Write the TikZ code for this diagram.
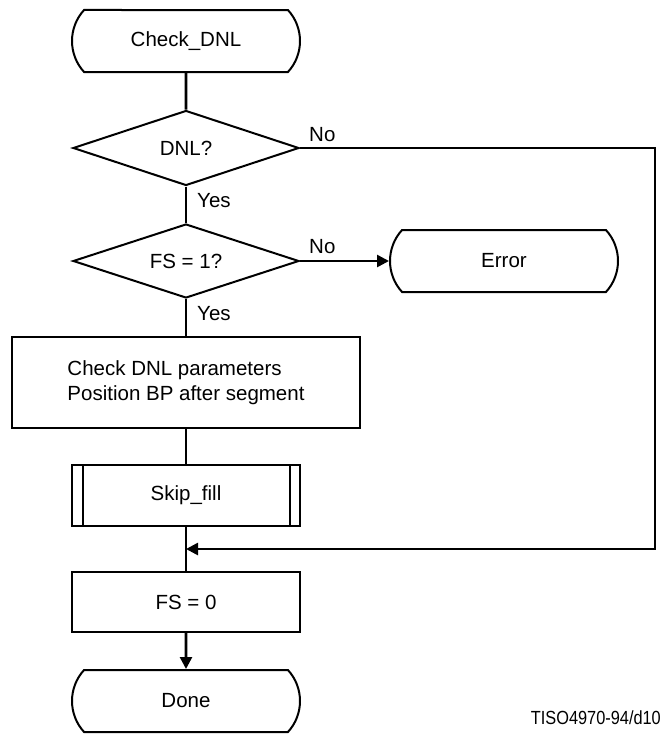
\documentclass[tikz,border=0pt]{standalone}
\usepackage{fontspec}
\setmainfont{Liberation Sans}
\usetikzlibrary{shapes.geometric,shapes.misc,arrows.meta}
\begin{document}
\begin{tikzpicture}[x=1pt,y=-1pt,
  every node/.style={font=\fontsize{20.5}{25}\selectfont},
  term/.style={rounded rectangle, rounded rectangle arc length=85, draw, line width=2pt,
               minimum width=228pt, minimum height=62pt, inner sep=0pt},
  decide/.style={diamond, draw, line width=2pt, minimum width=226pt, minimum height=75pt,
                 inner sep=0pt, aspect=3},
  proc/.style={rectangle, draw, line width=2pt, minimum width=228pt, minimum height=60pt, inner sep=0pt},
  lbl/.style={anchor=west, inner sep=0pt},
  conn/.style={line width=2.6pt},
  tip/.style={-{Triangle[length=12pt,width=12pt]}}
]
\useasboundingbox (0,0) rectangle (662,734);

% flowchart boxes
\node[term] (start) at (186,41) {Check\_DNL};
\node[decide] (dnl) at (186,148) {DNL?};
\node[decide, minimum height=74pt] (fs) at (186,261) {FS = 1?};
\node[term] (err) at (504,261) {Error};
\node[proc, minimum width=348pt, minimum height=91pt, align=left] (chk) at (186,382.5)
  {Check DNL parameters\\Position BP after segment};
\node[proc, minimum height=61pt] (skip) at (186,495.5) {Skip\_fill};
\node[proc] (fs0) at (186,602) {FS = 0};
\node[term] (done) at (186,701) {Done};

% inner bars of the predefined-process box
\draw[line width=2pt] ([xshift=12pt]skip.north west) -- ([xshift=12pt]skip.south west);
\draw[line width=2pt] ([xshift=-11pt]skip.north east) -- ([xshift=-11pt]skip.south east);

% branch labels
\node[lbl] (noA) at (309,135) {No};
\node[lbl] (yesA) at (197,201) {Yes};
\node[lbl] (noB) at (309,247) {No};
\node[lbl] (yesB) at (197,314) {Yes};

% connectors
\coordinate (turn) at (655,148);
\coordinate (join) at (186,549);
\draw[conn] (start) -- (dnl);
\draw[conn] (dnl) -- (fs);
\draw[conn,tip] (fs) -- (err);
\draw[conn] (fs) -- (chk);
\draw[conn] (chk) -- (skip);
\draw[conn] (skip) -- (fs0);
\draw[conn,tip] (dnl.east) -- (turn) |- (join);
\draw[conn,tip] (fs0) -- (done);

% figure tag
\node[anchor=east, inner sep=0pt, xscale=0.86, font=\fontsize{19}{22}\selectfont] (tag) at (661,718) {TISO4970-94/d10};
\end{tikzpicture}
\end{document}
